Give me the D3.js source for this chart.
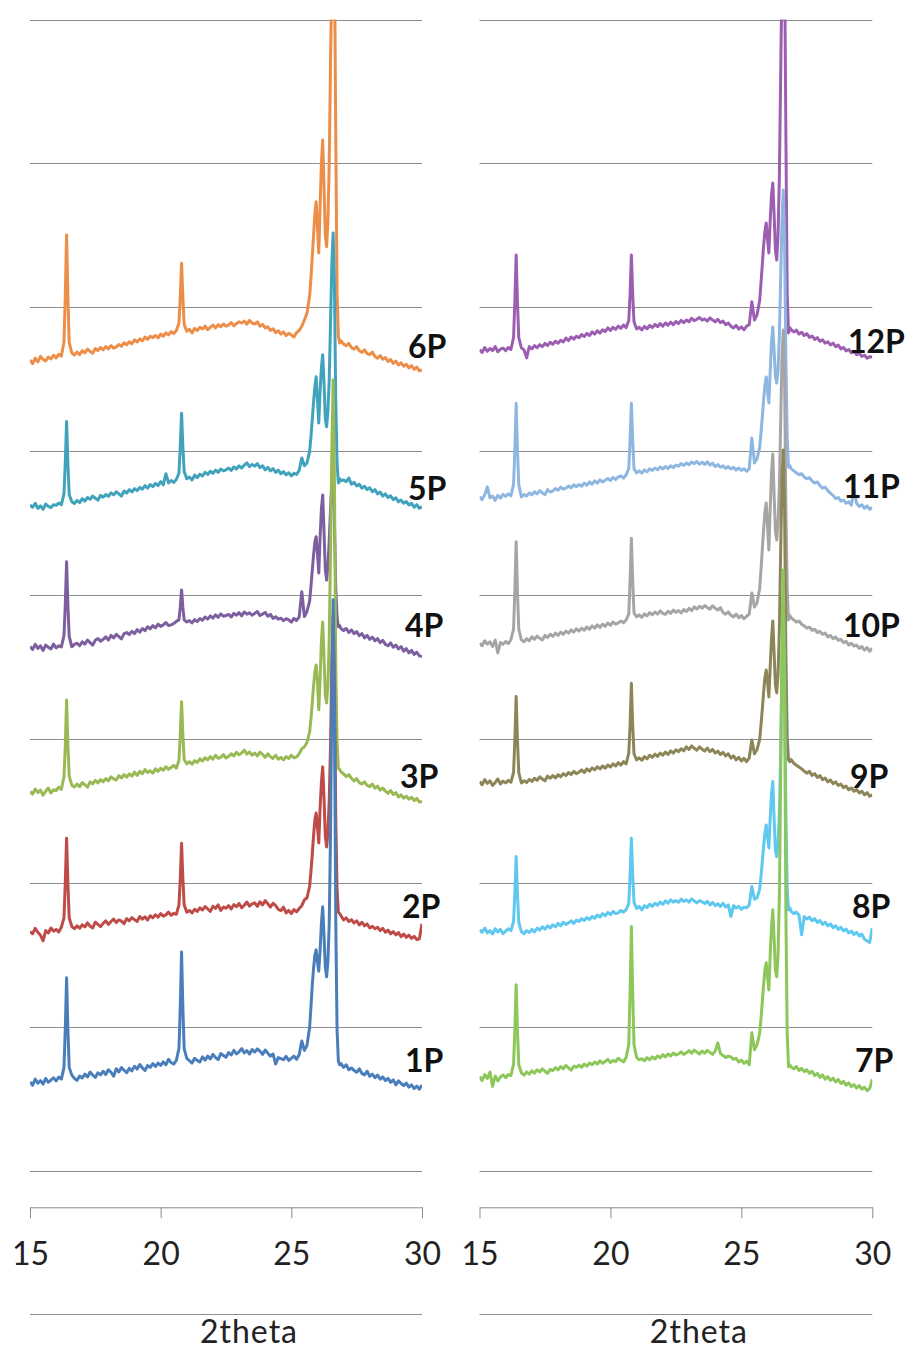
<!DOCTYPE html>
<html>
<head>
<meta charset="utf-8">
<script src="https://cdn.jsdelivr.net/npm/d3@7"></script>
<style>
  body { margin: 0; background: #fff; }
  svg text { font-family: Lato, "Open Sans", sans-serif; }
</style>
</head>
<body>
<div id="chart"></div>
<script>
// 2theta positions the patterns are sampled at (finer around the peaks)
const twoTheta = [
  15.0, 15.1, 15.2, 15.3, 15.4, 15.5, 15.6, 15.7, 15.8, 15.9,
  16.0, 16.1, 16.2, 16.3, 16.35, 16.4, 16.45, 16.5, 16.6, 16.7,
  16.8, 16.9, 17.0, 17.1, 17.2, 17.3, 17.4, 17.5, 17.6, 17.7,
  17.8, 17.9, 18.0, 18.1, 18.2, 18.3, 18.4, 18.5, 18.6, 18.7,
  18.8, 18.9, 19.0, 19.1, 19.2, 19.3, 19.4, 19.5, 19.6, 19.7,
  19.8, 19.9, 20.0, 20.1, 20.2, 20.3, 20.4, 20.5, 20.6, 20.7,
  20.75, 20.8, 20.85, 20.9, 21.0, 21.1, 21.2, 21.3, 21.4, 21.5,
  21.6, 21.7, 21.8, 21.9, 22.0, 22.1, 22.2, 22.3, 22.4, 22.5,
  22.6, 22.7, 22.8, 22.9, 23.0, 23.1, 23.2, 23.3, 23.4, 23.5,
  23.6, 23.7, 23.8, 23.9, 24.0, 24.1, 24.2, 24.3, 24.4, 24.5,
  24.6, 24.7, 24.8, 24.9, 25.0, 25.1, 25.2, 25.3, 25.4, 25.5,
  25.6, 25.7, 25.75, 25.8, 25.85, 25.9, 25.95, 26.0, 26.05, 26.1,
  26.15, 26.2, 26.25, 26.3, 26.35, 26.4, 26.45, 26.5, 26.55, 26.6,
  26.65, 26.7, 26.75, 26.8, 26.85, 26.9, 27.0, 27.1, 27.2, 27.3,
  27.4, 27.5, 27.6, 27.7, 27.8, 27.9, 28.0, 28.1, 28.2, 28.3,
  28.4, 28.5, 28.6, 28.7, 28.8, 28.9, 29.0, 29.1, 29.2, 29.3,
  29.4, 29.5, 29.6, 29.7, 29.8, 29.9, 30.0
];

const seriesNames = ["1P", "2P", "3P", "4P", "5P", "6P", "7P", "8P", "9P", "10P", "11P", "12P"];
// vertical offset added to each pattern for stacking
const offsets = [0, 1000, 2000, 3000, 4000, 5000, 0, 1000, 2000, 3000, 4000, 5000];

const xTicks = [15, 20, 25, 30];
const yGrid = [0, 1000, 2000, 3000, 4000, 5000, 6000, 7000, 8000];
const axisTitle = "2theta";

// intensities (counts)
const p1 = [
  621,598,640,612,630,605,645,618,633,650,
  628,655,640,720,990,1344,985,722,668,645,
  632,662,648,675,655,690,668,652,684,670,
  695,672,705,688,660,712,690,720,702,685,
  715,698,730,710,742,718,700,735,722,748,
  728,752,735,760,740,778,755,745,770,855,
  1140,1524,1130,850,785,768,752,785,770,760,
  795,772,800,780,812,790,776,818,805,792,
  825,808,840,815,830,852,822,838,815,845,
  828,850,835,812,842,820,800,815,745,790,
  782,775,798,770,785,800,778,810,905,840,
  875,1000,1140,1290,1410,1500,1538,1455,1390,1530,
  1720,1837,1640,1420,1351,1460,1720,2350,3300,3969,
  3150,1750,980,765,740,748,722,740,705,718,
  700,688,712,680,670,695,660,675,650,668,
  640,655,630,645,618,635,600,628,610,595,
  612,585,600,575,592,570,600
];
const p2 = [
  665,650,688,660,640,601,672,655,690,668,
  680,662,695,760,1000,1314,1000,760,700,685,
  705,688,712,698,725,702,690,730,715,700,
  722,740,715,735,752,728,746,738,720,755,
  740,762,748,735,770,752,768,745,775,760,
  782,765,790,772,781,800,778,792,785,850,
  1030,1279,1030,850,800,812,795,820,805,830,
  815,838,822,805,840,826,850,812,835,828,
  845,822,852,838,860,830,848,870,842,858,
  865,840,872,850,880,858,835,862,845,820,
  810,835,795,812,790,818,802,825,845,885,
  900,980,1080,1200,1330,1440,1489,1390,1281,1520,
  1700,1809,1600,1330,1253,1350,1580,1950,2550,2865,
  2400,1450,960,800,790,775,746,760,735,748,
  725,740,712,730,705,718,690,702,685,695,
  672,688,660,675,650,665,642,658,630,648,
  625,640,618,632,610,615,720
];
const p3 = [
  637,620,655,630,648,612,640,662,628,650,
  645,668,652,740,950,1274,960,745,682,670,
  690,672,700,685,668,705,692,715,698,720,
  705,728,712,740,725,718,748,732,755,738,
  760,745,772,750,778,762,790,770,782,765,
  795,778,800,785,810,792,805,820,800,855,
  1030,1262,1030,860,830,845,828,852,840,865,
  850,872,858,880,862,890,868,875,895,870,
  882,900,885,910,892,906,925,898,912,890,
  905,885,912,895,875,900,880,868,890,862,
  875,858,880,866,890,872,878,900,935,948,
  980,1050,1140,1250,1370,1470,1517,1400,1205,1420,
  1680,1816,1580,1310,1253,1380,1700,2300,3000,3497,
  2800,1500,980,800,790,775,760,742,755,730,
  712,728,700,690,705,680,672,690,660,675,
  648,662,640,625,645,618,630,600,615,592,
  605,585,598,575,590,565,568
];
const p4 = [
  644,625,660,632,650,618,655,640,628,662,
  635,650,642,720,935,1234,930,715,643,660,
  668,650,678,662,690,672,655,688,700,682,
  695,712,690,722,705,730,714,698,735,742,
  728,750,735,762,745,770,755,782,768,790,
  775,800,785,795,812,790,795,805,820,830,
  920,1038,915,830,815,825,809,832,818,840,
  828,850,835,858,842,865,848,872,855,860,
  868,850,875,862,880,858,885,870,879,862,
  875,888,860,870,882,855,868,840,852,835,
  842,825,838,830,815,840,826,850,1026,853,
  890,960,1060,1170,1280,1370,1408,1290,1156,1400,
  1600,1698,1450,1180,1107,1200,1380,1600,1780,1816,
  1500,1050,850,783,790,770,755,770,742,760,
  735,748,720,735,705,722,695,710,685,700,
  672,688,660,650,670,640,655,628,645,612,
  630,600,618,590,605,580,575
];
const p5 = [
  628,612,640,605,622,598,635,618,610,630,
  625,642,630,705,920,1207,915,700,651,638,
  660,645,672,655,680,668,690,675,662,695,
  682,700,688,712,698,720,705,690,725,711,
  735,718,742,728,750,738,762,745,770,755,
  778,762,790,768,845,781,798,785,805,850,
  1030,1265,1030,860,810,822,802,835,818,842,
  830,855,840,862,848,870,855,878,865,872,
  885,868,892,878,900,885,906,920,895,910,
  898,915,888,900,872,890,865,880,855,870,
  845,860,837,852,830,848,840,868,955,900,
  920,1000,1100,1220,1340,1450,1519,1360,1198,1420,
  1580,1672,1480,1230,1172,1280,1500,1900,2300,2517,
  2150,1350,920,781,810,795,802,790,815,772,
  785,760,772,745,758,735,748,720,735,705,
  718,690,705,680,692,665,678,650,662,640,
  652,628,640,612,630,605,616
];
const p6 = [
  635,610,648,622,660,640,628,655,642,668,
  650,675,662,760,1080,1503,1075,755,684,670,
  690,672,700,685,710,695,682,715,700,722,
  705,728,712,735,718,726,742,730,755,740,
  762,748,775,760,782,768,795,778,800,790,
  805,788,815,800,823,810,832,818,840,890,
  1070,1307,1070,880,835,848,823,855,840,862,
  850,870,845,862,878,858,880,866,885,870,
  878,895,872,888,900,892,905,884,910,892,
  885,900,870,882,858,866,840,852,825,838,
  815,830,805,820,809,795,825,840,870,913,
  960,1080,1200,1350,1500,1650,1734,1560,1378,1700,
  2000,2163,1850,1500,1422,1600,2000,2700,3300,3600,
  3450,2200,1100,800,753,770,745,735,750,722,
  710,728,700,688,705,680,672,690,660,648,
  665,640,652,625,638,612,628,600,615,592,
  605,580,596,570,585,560,566
];
const p7 = [
  658,630,672,645,690,590,662,628,655,670,
  650,672,665,745,980,1295,975,740,684,668,
  690,675,698,682,705,690,712,695,680,708,
  700,720,705,728,712,735,719,702,730,722,
  738,722,745,730,752,740,760,745,768,750,
  762,778,755,770,762,785,772,760,790,880,
  1240,1700,1240,880,790,775,782,768,790,774,
  795,780,802,788,810,795,815,800,822,808,
  815,830,812,823,838,820,842,828,815,835,
  820,840,826,812,835,892,818,805,790,800,
  795,778,785,760,772,750,765,740,962,844,
  880,960,1060,1180,1300,1400,1448,1350,1260,1500,
  1700,1816,1620,1400,1351,1500,1900,2700,3700,4177,
  3300,1800,960,726,740,725,712,728,700,715,
  692,705,680,695,665,680,652,670,640,658,
  632,648,620,638,610,625,598,615,588,602,
  578,595,570,585,560,575,640
];
const p8 = [
  677,660,690,655,672,648,685,662,680,650,
  668,685,672,735,930,1186,925,730,665,650,
  672,658,680,662,690,675,698,682,705,690,
  712,698,722,705,730,715,725,740,722,745,
  735,755,742,762,748,770,758,780,765,790,
  775,798,782,805,790,795,812,800,818,860,
  1060,1314,1060,870,825,840,816,845,832,855,
  840,862,848,870,855,878,862,885,870,880,
  868,890,875,885,870,892,878,865,880,872,
  860,875,850,868,845,858,840,862,835,850,
  770,845,828,840,820,835,830,850,978,890,
  900,960,1050,1150,1260,1350,1406,1320,1246,1450,
  1620,1707,1450,1230,1186,1280,1480,1900,2500,2968,
  2500,1500,960,816,830,805,790,800,780,643,
  770,752,765,740,755,728,742,715,730,705,
  718,692,705,680,695,670,682,655,668,645,
  660,635,648,612,600,590,690
];
const p9 = [
  707,685,720,695,712,680,700,725,690,710,
  698,715,702,770,995,1297,990,770,697,712,
  700,722,708,730,715,740,725,712,745,730,
  748,732,755,740,762,748,770,755,778,762,
  772,788,770,795,780,802,788,810,795,815,
  800,822,808,830,815,838,822,845,830,905,
  1100,1390,1100,900,858,872,855,880,865,890,
  875,898,882,905,890,912,895,920,905,928,
  915,935,920,948,930,955,938,925,948,932,
  920,940,915,930,905,918,895,910,885,900,
  870,885,858,875,850,868,845,872,996,900,
  930,1000,1100,1210,1330,1430,1482,1400,1295,1500,
  1700,1823,1600,1380,1323,1450,1750,2300,2800,3010,
  2600,1600,1020,858,845,860,835,820,808,795,
  780,765,778,750,762,735,748,720,732,705,
  718,692,705,680,690,665,676,650,662,640,
  652,628,640,615,630,605,614
];
const p10 = [
  668,650,685,662,678,645,690,601,672,660,
  680,665,692,765,1030,1373,1025,765,691,678,
  700,685,712,695,718,702,690,722,708,730,
  715,738,722,745,730,752,738,760,745,768,
  752,772,758,780,765,788,772,795,778,800,
  785,808,792,815,800,809,822,810,830,870,
  1100,1397,1100,880,851,865,848,872,858,880,
  866,885,870,892,876,868,890,875,898,882,
  895,878,902,888,910,895,920,905,925,912,
  930,915,905,928,912,898,915,880,870,885,
  862,851,870,845,860,838,855,870,1017,920,
  950,1050,1180,1320,1460,1580,1642,1480,1316,1600,
  1850,1982,1700,1450,1385,1500,1750,2200,2650,2843,
  2500,1600,1050,830,860,845,830,815,822,800,
  788,772,780,758,765,742,750,730,738,712,
  722,700,710,688,695,672,680,655,668,648,
  655,632,645,620,638,612,633
];
const p11 = [
  686,665,700,754,678,690,660,695,675,702,
  688,705,692,770,1010,1334,1010,770,684,700,
  690,712,698,720,705,728,712,700,735,718,
  725,742,730,752,738,745,760,748,768,755,
  770,758,780,765,788,772,795,780,802,788,
  800,812,798,820,805,823,830,815,838,880,
  1080,1334,1080,880,851,865,850,872,858,880,
  868,885,872,892,878,895,882,900,888,905,
  898,915,902,920,908,927,915,930,912,925,
  910,928,905,918,895,908,890,900,882,895,
  878,890,871,885,868,880,862,878,1093,920,
  950,1030,1130,1240,1360,1460,1517,1420,1336,1550,
  1760,1864,1700,1520,1475,1560,1800,2200,2600,2816,
  2450,1650,1100,890,902,880,865,852,838,845,
  822,810,818,795,780,788,762,745,752,728,
  710,695,672,680,655,662,640,650,628,732,
  640,618,630,605,622,598,610
];
const p12 = [
  705,688,722,695,715,700,728,692,710,718,
  700,722,708,790,1040,1364,1035,790,719,705,
  650,728,712,735,720,742,728,750,735,758,
  745,765,752,772,760,788,770,795,780,800,
  790,812,798,820,805,830,815,838,822,845,
  832,858,840,862,848,870,855,878,860,910,
  1090,1364,1090,900,850,862,844,868,852,875,
  860,882,866,888,870,892,876,898,880,902,
  888,910,895,913,900,925,908,918,930,912,
  920,905,928,912,900,918,895,905,880,892,
  870,858,875,850,865,845,870,880,1040,913,
  950,1050,1170,1300,1430,1530,1586,1470,1378,1600,
  1780,1864,1650,1400,1330,1500,1900,2600,3300,3600,
  3450,2200,1100,823,860,845,830,842,815,828,
  805,818,792,802,778,790,765,775,752,762,
  740,752,728,738,712,722,698,708,685,695,
  672,682,660,668,648,658,656
];

const patterns = [p1, p2, p3, p4, p5, p6, p7, p8, p9, p10, p11, p12];
const colors = ["#4a7ebb", "#be4b48", "#98b954", "#7d5fa0", "#40a3bb", "#ec8e48",
                "#8dc75a", "#5ec8ef", "#8c8557", "#a5a5a5", "#8db6e1", "#9c5eb0"];

patterns.forEach(function(p, i) {
  if (p.length !== twoTheta.length) throw new Error(seriesNames[i] + " has " + p.length + " points");
});

// layout
const width = 911, height = 1349;
const plotTop = 19.5, axisY = 1207.3;
const panels = [
  {left: 30, right: 422, series: [0, 1, 2, 3, 4, 5]},
  {left: 479.5, right: 872.3, series: [6, 7, 8, 9, 10, 11]}
];
// where each series name sits (baseline, left edge)
const labelX = [405, 402, 400, 405, 408, 408, 855, 852, 850, 843, 843, 848];
const labelY = [1072, 918, 788, 637, 500, 358, 1072, 918, 788, 637, 498, 353];

let svg = d3.select("#chart")
  .append("svg")
  .attr("width", width)
  .attr("height", height);

let y = d3.scaleLinear()
  .domain([-250, 8000])
  .range([axisY, plotTop]);

panels.forEach(function(panel, pi) {
  let x = d3.scaleLinear()
    .domain([15, 30])
    .range([panel.left, panel.right]);

  let g = svg.append("g");

  // gridlines
  g.selectAll("line.grid")
    .data(yGrid)
    .enter()
    .append("line")
    .attr("class", "grid")
    .attr("x1", panel.left)
    .attr("x2", panel.right)
    .attr("y1", d => Math.round(y(d)) + 0.5)
    .attr("y2", d => Math.round(y(d)) + 0.5)
    .attr("stroke", "#8e8e8e")
    .attr("stroke-width", 1);

  // x axis
  let axis = g.append("g")
    .attr("transform", `translate(0, ${axisY})`)
    .call(d3.axisBottom(x).tickValues(xTicks).tickSize(11).tickSizeOuter(0).tickPadding(24));
  axis.select(".domain").attr("stroke", "#8a8a8a");
  axis.selectAll(".tick line").attr("stroke", "#8a8a8a");
  axis.selectAll(".tick text")
    .style("font-size", "32px")
    .style("font-family", "Lato, sans-serif")
    .attr("fill", "#222");

  // clip the traces to the plot area
  let clipId = "clip" + pi;
  svg.append("clipPath")
    .attr("id", clipId)
    .append("rect")
    .attr("x", panel.left)
    .attr("y", plotTop)
    .attr("width", panel.right - panel.left)
    .attr("height", axisY - plotTop);

  let traces = g.append("g").attr("clip-path", `url(#${clipId})`);

  // later samples are drawn first so the lower patterns sit on top
  panel.series.slice().reverse().forEach(function(si) {
    let line = d3.line()
      .x((d, i) => x(twoTheta[i]))
      .y(d => y(d + offsets[si]));
    traces.append("path")
      .datum(patterns[si])
      .attr("d", line)
      .attr("fill", "none")
      .attr("stroke", colors[si])
      .attr("stroke-width", 3)
      .attr("stroke-linejoin", "round");
  });

  // series labels
  panel.series.forEach(function(si) {
    g.append("text")
      .attr("x", labelX[si])
      .attr("y", labelY[si])
      .style("font-size", "32px")
      .style("font-weight", "bold")
      .attr("fill", "#111")
      .text(seriesNames[si]);
  });

  // title line and axis title
  g.append("line")
    .attr("x1", panel.left)
    .attr("x2", panel.right)
    .attr("y1", 1314.5)
    .attr("y2", 1314.5)
    .attr("stroke", "#8e8e8e");

  g.append("text")
    .attr("x", (panel.left + panel.right) / 2 + 23)
    .attr("y", 1343)
    .style("text-anchor", "middle")
    .style("font-size", "32px")
    .style("letter-spacing", "1px")
    .attr("fill", "#222")
    .text(axisTitle);
});
</script>
</body>
</html>
